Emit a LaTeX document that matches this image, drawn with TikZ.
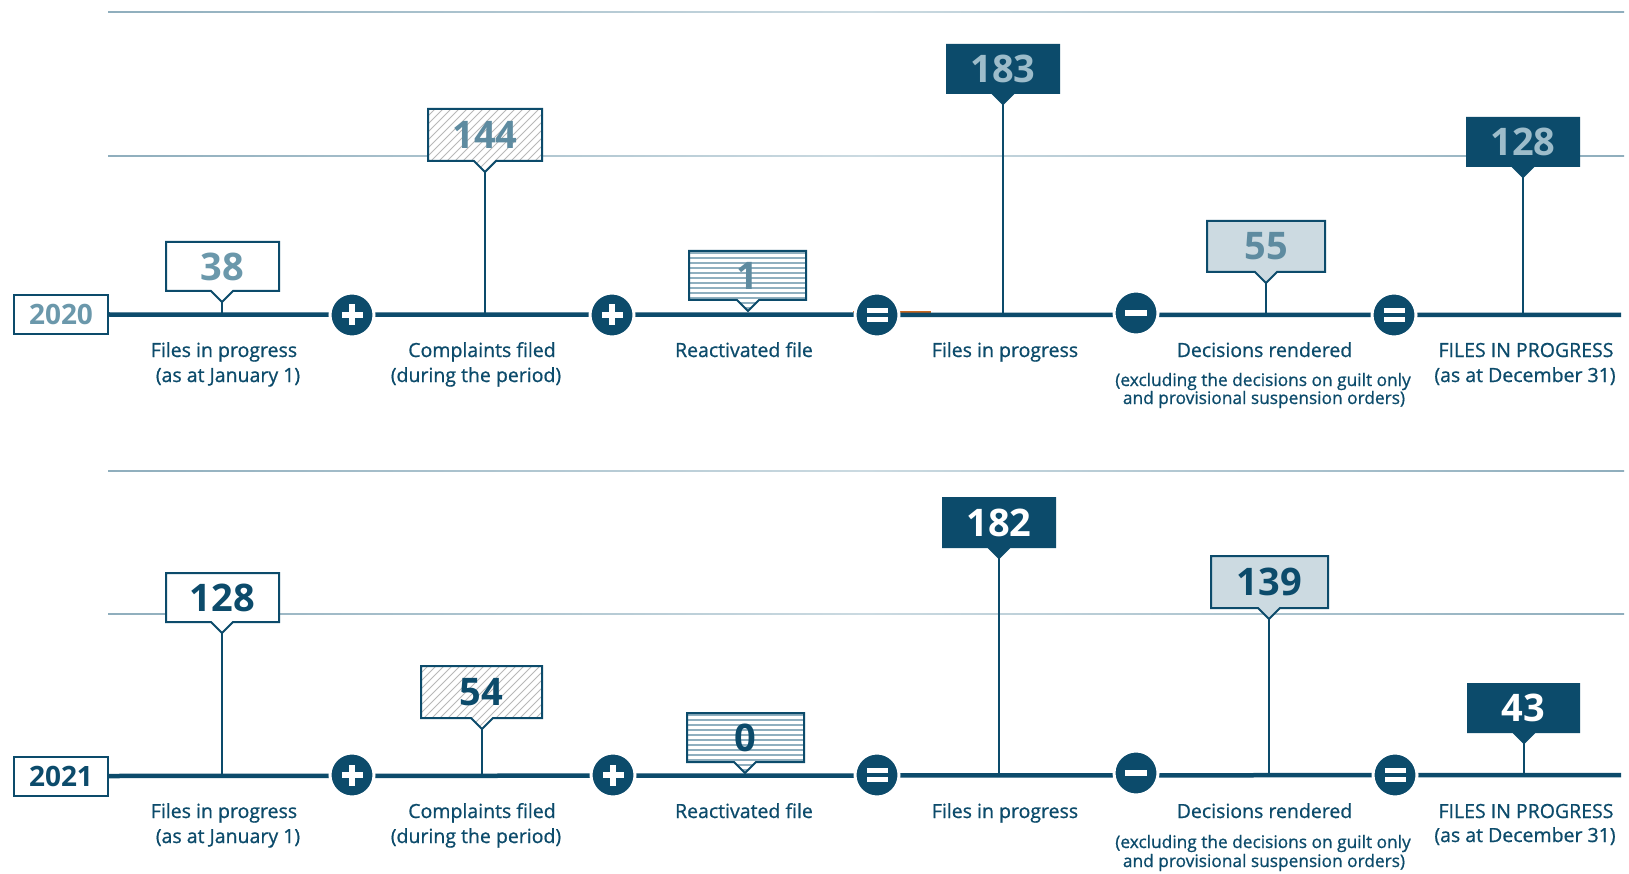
\documentclass[tikz,border=0pt]{standalone}
\usepackage{fontspec}
\setmainfont{Open Sans}
\newfontfamily\labfont{Open Sans}[FakeBold=0.8]
\definecolor{navy}{HTML}{0C4B6B}
\definecolor{lb}{HTML}{6B98AB}
\definecolor{lbd}{HTML}{5E8BA0}
\definecolor{pale}{HTML}{9DBCCA}
\definecolor{fillc}{HTML}{CCDAE1}
\definecolor{hatchc}{HTML}{B8B8B8}
\definecolor{stripec}{HTML}{8FAFBF}
\definecolor{guidea}{HTML}{8FAEBD}
\definecolor{guideb}{HTML}{CBDAE1}
\definecolor{orangec}{HTML}{C8661E}
\newcommand\cpath[5]{(#1,#2) -- (#3,#2) -- (#3,#4) -- ({#5+11},#4) -- (#5,{#4+11}) -- ({#5-11},#4) -- (#1,#4) -- cycle}
\newcommand\plusmark[1]{\fill[white] ([xshift=-10.5pt,yshift=-3pt]#1.center) rectangle ([xshift=10.5pt,yshift=3pt]#1.center);
  \fill[white] ([xshift=-3pt,yshift=-10.5pt]#1.center) rectangle ([xshift=3pt,yshift=10.5pt]#1.center);}
\newcommand\eqmark[1]{\fill[white] ([xshift=-10.5pt,yshift=2pt]#1.center) rectangle ([xshift=10.5pt,yshift=7pt]#1.center);
  \fill[white] ([xshift=-10.5pt,yshift=-2pt]#1.center) rectangle ([xshift=10.5pt,yshift=-7pt]#1.center);}
\newcommand\minusmark[1]{\fill[white] ([xshift=-11pt,yshift=-2.75pt]#1.center) rectangle ([xshift=11pt,yshift=2.75pt]#1.center);}
\newcommand\guide[1]{\shade[left color=guidea, right color=guidea, middle color=guideb] (108,{#1-0.8}) rectangle (1624,{#1+0.8});}
\begin{document}
\begin{tikzpicture}[x=1pt,y=-1pt,
  timeline/.style={navy, line width=4.5pt},
  stem/.style={navy, line width=2.2pt},
  opc/.style={circle, fill=navy, draw=white, line width=3pt, minimum size=44pt, inner sep=0pt},
  boxline/.style={draw=navy, line width=2pt, line join=miter},
  num/.style={font=\fontsize{38}{38}\bfseries, inner sep=0pt, anchor=center},
  lab/.style={font=\labfont\fontsize{19.5}{21}\selectfont, text=navy, inner sep=0pt, anchor=base},
  slab/.style={font=\labfont\fontsize{17.3}{18}\selectfont, text=navy, inner sep=0pt, anchor=base},
  yearbox/.style={draw=navy, line width=2pt, minimum width=94pt, minimum height=39pt, inner sep=0pt, font=\fontsize{28}{28}\bfseries, fill=white},
]
\useasboundingbox (0,0) rectangle (1629,874);
\fill[white] (0,0) rectangle (1629,874);

% guide lines
\guide{12}
\guide{156}
\guide{471}
\guide{614}

% ================= 2020 =================
\coordinate (L20) at (0,315);
\coordinate (E20) at (1621,315);
\node[yearbox, text=lb] (y20) at (61,314.5) {2020};
\draw[orangec, line width=1.2pt] (853,312) -- (931,312);
\draw[timeline] (y20.east) -- (E20);

% 38
\path[boxline, fill=white] \cpath{166}{242}{279}{291}{222};
\coordinate (t38a) at (222,302);
\draw[stem] (t38a) -- (t38a |- L20);
\node[num, text=lb] (n38a) at (222.5,266.5) {38};

% 144 hatched
\begin{scope}
\clip \cpath{428}{109}{542}{161}{485};
\fill[white] (420,100) rectangle (550,180);
\foreach \i in {0,8,...,200} \draw[hatchc, line width=0.8pt] ({358+\i},178) -- ({428+\i},108);
\end{scope}
\path[boxline] \cpath{428}{109}{542}{161}{485};
\coordinate (t144) at (485,172);
\draw[stem] (t144) -- (t144 |- L20);
\node[num, text=lbd] (n144) at (485,135) {144};

% 1 striped
\begin{scope}
\clip \cpath{689}{251}{806}{300}{748};
\fill[white] (680,240) rectangle (815,320);
\foreach \yy in {253,258,...,315} \draw[stripec, line width=2.4pt] (680,\yy) -- (815,\yy);
\end{scope}
\path[boxline] \cpath{689}{251}{806}{300}{748};
\coordinate (t1) at (748,311);
\node[num, text=lbd] (n1) at (747.5,275.5) {1};

% 183 dark
\path[boxline, fill=navy] \cpath{947}{45}{1059}{93}{1003};
\coordinate (t183) at (1003,104);
\draw[stem] (t183) -- (t183 |- L20);
\node[num, text=pale] (n183) at (1003,69) {183};

% 55 light
\path[boxline, fill=fillc] \cpath{1207}{221}{1325}{272}{1266};
\coordinate (t55) at (1266,283);
\draw[stem] (t55) -- (t55 |- L20);
\node[num, text=lbd] (n55) at (1266,246.5) {55};

% 128 dark
\path[boxline, fill=navy] \cpath{1467}{118}{1579}{166}{1523};
\coordinate (t128a) at (1523,177);
\draw[stem] (t128a) -- (t128a |- L20);
\node[num, text=pale] (n128a) at (1523,142) {128};

% operators
\node[opc] (pa1) at (352,315) {}; \plusmark{pa1}
\node[opc] (pa2) at (612,315) {}; \plusmark{pa2}
\node[opc] (ea1) at (877,315) {}; \eqmark{ea1}
\node[opc] (ma1) at (1136,313) {}; \minusmark{ma1}
\node[opc] (ea2) at (1394,315) {}; \eqmark{ea2}

% labels
\node[lab] (la1) at (224,357) {Files in progress};
\node[lab] (la1b) at (228,382) {(as at January 1)};
\node[lab] (la2) at (482,357) {Complaints filed};
\node[lab] (la2b) at (476,382) {(during the period)};
\node[lab] (la3) at (744,357) {Reactivated file};
\node[lab] (la4) at (1005,357) {Files in progress};
\node[lab] (la5) at (1264.5,357) {Decisions rendered};
\node[slab] (la5b) at (1263,386) {(excluding the decisions on guilt only};
\node[slab] (la5c) at (1264,404) {and provisional suspension orders)};
\node[lab] (la6) at (1526,357) {FILES IN PROGRESS};
\node[lab] (la6b) at (1525,382) {(as at December 31)};

% ================= 2021 =================
\coordinate (L21) at (0,775);
\coordinate (E21) at (1621,775);
\node[yearbox, text=navy] (y21) at (61,776) {2021};
\draw[timeline] (y21.east) -- (E21);

% 128
\path[boxline, fill=white] \cpath{166}{573}{279}{622}{222};
\coordinate (t128b) at (222,633);
\draw[stem] (t128b) -- (t128b |- L21);
\node[num, text=navy] (n128b) at (222.5,597.5) {128};

% 54 hatched
\begin{scope}
\clip \cpath{421}{666}{542}{718}{482};
\fill[white] (410,655) rectangle (550,735);
\foreach \i in {0,8,...,210} \draw[hatchc, line width=0.8pt] ({351+\i},735) -- ({421+\i},665);
\end{scope}
\path[boxline] \cpath{421}{666}{542}{718}{482};
\coordinate (t54) at (482,729);
\draw[stem] (t54) -- (t54 |- L21);
\node[num, text=navy] (n54) at (481.5,692) {54};

% 0 striped
\begin{scope}
\clip \cpath{687}{713}{804}{762}{745};
\fill[white] (680,700) rectangle (815,780);
\foreach \yy in {715,720,...,780} \draw[stripec, line width=2.4pt] (680,\yy) -- (815,\yy);
\end{scope}
\path[boxline] \cpath{687}{713}{804}{762}{745};
\coordinate (t0) at (745,773);
\node[num, text=navy] (n0) at (745.5,737.5) {0};

% 182 dark
\path[boxline, fill=navy] \cpath{943}{498}{1055}{547}{999};
\coordinate (t182) at (999,558);
\draw[stem] (t182) -- (t182 |- L21);
\node[num, text=white] (n182) at (999,522.5) {182};

% 139 light
\path[boxline, fill=fillc] \cpath{1211}{556}{1328}{608}{1269};
\coordinate (t139) at (1269,619);
\draw[stem] (t139) -- (t139 |- L21);
\node[num, text=navy] (n139) at (1269.5,582) {139};

% 43 dark
\path[boxline, fill=navy] \cpath{1468}{684}{1579}{732}{1524};
\coordinate (t43) at (1524,743);
\draw[stem] (t43) -- (t43 |- L21);
\node[num, text=white] (n43) at (1523.5,708) {43};

% operators
\node[opc] (pb1) at (352,775) {}; \plusmark{pb1}
\node[opc] (pb2) at (613,775) {}; \plusmark{pb2}
\node[opc] (eb1) at (877,775) {}; \eqmark{eb1}
\node[opc] (mb1) at (1136,773) {}; \minusmark{mb1}
\node[opc] (eb2) at (1395,775) {}; \eqmark{eb2}

% labels
\node[lab] (lb1) at (224,818) {Files in progress};
\node[lab] (lb1b) at (228,843) {(as at January 1)};
\node[lab] (lb2) at (482,818) {Complaints filed};
\node[lab] (lb2b) at (476,843) {(during the period)};
\node[lab] (lb3) at (744,818) {Reactivated file};
\node[lab] (lb4) at (1005,818) {Files in progress};
\node[lab] (lb5) at (1264.5,818) {Decisions rendered};
\node[slab] (lb5b) at (1263,848) {(excluding the decisions on guilt only};
\node[slab] (lb5c) at (1264,867) {and provisional suspension orders)};
\node[lab] (lb6) at (1526,818) {FILES IN PROGRESS};
\node[lab] (lb6b) at (1525,842) {(as at December 31)};
\end{tikzpicture}
\end{document}
